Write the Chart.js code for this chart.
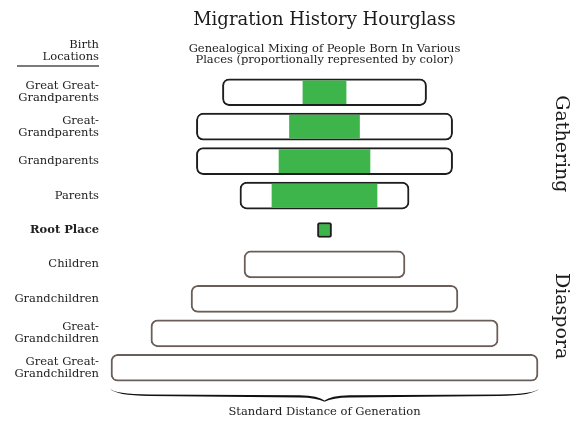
<!DOCTYPE html>
<html>
<head>
<meta charset="utf-8">
<title>Migration History Hourglass</title>
<script src="https://cdn.jsdelivr.net/npm/chart.js@4/dist/chart.umd.min.js"></script>
<style>
    body { margin: 0; background: #fff; }
    canvas { display: block; }
</style>
</head>
<body>
<canvas id="hourglass" width="580" height="421"></canvas>
<script>
// generations, top (oldest) to bottom (youngest)
const generations = [
    ['Great Great-', 'Grandparents'],
    ['Great-', 'Grandparents'],
    'Grandparents',
    'Parents',
    'Root Place',
    'Children',
    'Grandchildren',
    ['Great-', 'Grandchildren'],
    ['Great Great-', 'Grandchildren']
];
// overall spread of birth places per generation (great great-grandchildren = 100)
const spread = [47.8, 60.0, 60.0, 39.6, 3.3, 37.7, 62.5, 81.3, 100];
// part born in the root place (green), same units
const rootShare = [10.1, 16.4, 21.3, 24.6, 3.3, null, null, null, null];
const rootIndex = 4;

const sideLabels = ['Gathering', 'Diaspora'];
const titleText = 'Migration History Hourglass';
const subtitleLines = ['Genealogical Mixing of People Born In Various', 'Places (proportionally represented by color)'];
const headerLines = ['Birth', 'Locations'];
const bottomText = 'Standard Distance of Generation';

const green = '#3db54a';
const ancestorBorder = '#1e1e1e';
const descendantBorder = '#6a5e58';

Chart.defaults.font.family = "'DejaVu Serif', serif";
Chart.defaults.color = '#222';

const outerBars = spread.map((w, i) => i === rootIndex ? null : [-w / 2, w / 2]);
const greenBars = rootShare.map((g, i) => (i < rootIndex && g) ? [-g / 2, g / 2] : null);
const rootBar = spread.map((w, i) => i === rootIndex ? [-rootShare[i] / 2, rootShare[i] / 2] : null);

// text, brace and side labels around the plot
const decorations = {
    id: 'decorations',
    afterDraw(chart) {
        const ctx = chart.ctx;
        const area = chart.chartArea;
        const cx = (area.left + area.right) / 2;
        ctx.save();
        ctx.fillStyle = '#1c1c1c';
        ctx.textAlign = 'center';
        ctx.textBaseline = 'middle';

        ctx.font = "18px 'DejaVu Serif'";
        ctx.fillText(titleText, cx, 20);

        ctx.font = "11.5px 'DejaVu Serif'";
        ctx.fillText(subtitleLines[0], cx, 49);
        ctx.fillText(subtitleLines[1], cx, 60);
        ctx.fillText(bottomText, cx, 412);

        // header over the generation names
        ctx.textAlign = 'right';
        ctx.fillText(headerLines[0], 99, 45);
        ctx.fillText(headerLines[1], 99, 57);
        ctx.strokeStyle = '#7a7a7a';
        ctx.lineWidth = 2;
        ctx.beginPath();
        ctx.moveTo(17, 66);
        ctx.lineTo(99, 66);
        ctx.stroke();

        // Gathering / Diaspora, read top to bottom
        const y = chart.scales.y;
        const upper = (y.getPixelForValue(0) + y.getPixelForValue(3)) / 2;
        const lower = (y.getPixelForValue(5) + y.getPixelForValue(8)) / 2;
        ctx.font = "19px 'DejaVu Serif'";
        ctx.textAlign = 'center';
        [[sideLabels[0], upper], [sideLabels[1], lower]].forEach(([txt, py]) => {
            ctx.save();
            ctx.translate(561, py);
            ctx.rotate(Math.PI / 2);
            ctx.fillText(txt, 0, 0);
            ctx.restore();
        });

        // curly brace under the widest generation
        const x = chart.scales.x;
        const halfW = x.getPixelForValue(spread[8] / 2) - cx;
        ctx.fillStyle = '#111';
        [1, -1].forEach(dir => {
            const px = d => cx + dir * d;
            const e = halfW + 1;
            ctx.beginPath();
            ctx.moveTo(px(e), 388.5);
            ctx.quadraticCurveTo(px(e - 4), 394, px(e - 40), 394.5);
            ctx.lineTo(px(25), 395.2);
            ctx.quadraticCurveTo(px(6), 395.6, px(0), 400.5);
            ctx.lineTo(px(0), 401.8);
            ctx.quadraticCurveTo(px(8), 397.6, px(25), 397.4);
            ctx.lineTo(px(e - 40), 396);
            ctx.quadraticCurveTo(px(e - 5), 395.5, px(e), 388.5);
            ctx.closePath();
            ctx.fill();
        });
        ctx.restore();
    }
};

new Chart(document.getElementById('hourglass'), {
    type: 'bar',
    data: {
        labels: generations,
        datasets: [
            {
                label: 'Root place',
                data: rootBar,
                backgroundColor: green,
                borderColor: ancestorBorder,
                borderWidth: 2,
                borderRadius: 2,
                borderSkipped: false,
                barThickness: 15,
                grouped: false,
                order: 0
            },
            {
                label: 'Born in root place',
                data: greenBars,
                backgroundColor: green,
                borderWidth: 0,
                barThickness: 23,
                grouped: false,
                order: 1
            },
            {
                label: 'All birth places',
                data: outerBars,
                backgroundColor: '#fff',
                borderColor: spread.map((w, i) => i < rootIndex ? ancestorBorder : descendantBorder),
                borderWidth: 2,
                borderRadius: 7,
                borderSkipped: false,
                barThickness: 27,
                grouped: false,
                order: 2
            }
        ]
    },
    options: {
        indexAxis: 'y',
        responsive: false,
        animation: false,
        layout: { padding: { top: 75, bottom: 36, left: 0, right: 36 } },
        plugins: {
            legend: { display: false },
            tooltip: { enabled: false }
        },
        scales: {
            x: {
                type: 'linear',
                min: -51.4,
                max: 51.4,
                display: false
            },
            y: {
                grid: { display: false, drawTicks: false },
                border: { display: false },
                ticks: {
                    padding: 6,
                    color: '#222',
                    font: c => ({
                        family: "'DejaVu Serif'",
                        size: 11.5,
                        lineHeight: 1.05,
                        weight: c.index === rootIndex ? 'bold' : 'normal'
                    })
                },
                afterFit: s => { s.width = 105; }
            }
        }
    },
    plugins: [decorations]
});
</script>
</body>
</html>
